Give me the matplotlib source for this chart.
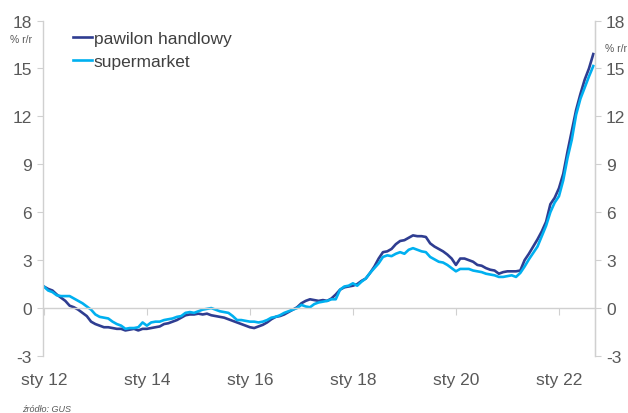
"""Inflacja cen w handlu: pawilon handlowy vs supermarket (% r/r)"""

import matplotlib.pyplot as plt
from matplotlib.lines import Line2D

plt.rcParams['font.family'] = ['Liberation Sans', 'DejaVu Sans']
plt.rcParams['axes.unicode_minus'] = False

# miesiące od sty 2012 do wrz 2022
pawilon = [
    1.35, 1.2, 1.1, 0.85, 0.65, 0.45, 0.15, 0.05, -0.1, -0.3, -0.5, -0.85,
    -1.0, -1.1, -1.2, -1.2, -1.25, -1.3, -1.3, -1.4, -1.35, -1.3, -1.4, -1.3,
    -1.3, -1.25, -1.2, -1.15, -1.0, -0.95, -0.85, -0.75, -0.6, -0.45, -0.4, -0.4,
    -0.35, -0.4, -0.35, -0.45, -0.5, -0.55, -0.6, -0.7, -0.8, -0.9, -1.0, -1.1,
    -1.2, -1.25, -1.15, -1.05, -0.9, -0.7, -0.55, -0.5, -0.4, -0.25, -0.1, 0.05,
    0.3, 0.45, 0.55, 0.5, 0.45, 0.5, 0.45, 0.6, 0.85, 1.15, 1.3, 1.35,
    1.4, 1.5, 1.7, 1.85, 2.2, 2.6, 3.1, 3.5, 3.55, 3.7, 4.0, 4.2,
    4.25, 4.4, 4.55, 4.5, 4.5, 4.45, 4.05, 3.85, 3.7, 3.55, 3.35, 3.1,
    2.7, 3.1, 3.1, 3.0, 2.9, 2.7, 2.65, 2.5, 2.4, 2.35, 2.15, 2.25,
    2.3, 2.3, 2.3, 2.35, 3.0, 3.4, 3.85, 4.3, 4.8, 5.4, 6.5, 6.9,
    7.5, 8.4, 9.8, 11.1, 12.4, 13.4, 14.3, 15.0, 15.9,
]
supermarket = [
    1.35, 1.1, 1.0, 0.8, 0.75, 0.75, 0.75, 0.6, 0.45, 0.3, 0.1, -0.1,
    -0.4, -0.55, -0.6, -0.65, -0.85, -1.0, -1.1, -1.3, -1.25, -1.25, -1.2, -0.9,
    -1.1, -0.9, -0.85, -0.85, -0.75, -0.7, -0.65, -0.55, -0.5, -0.3, -0.25, -0.3,
    -0.2, -0.1, -0.05, 0.0, -0.1, -0.2, -0.25, -0.3, -0.5, -0.75, -0.75, -0.8,
    -0.85, -0.85, -0.9, -0.85, -0.75, -0.6, -0.55, -0.45, -0.3, -0.2, -0.1, 0.0,
    0.2, 0.1, 0.05, 0.25, 0.35, 0.4, 0.45, 0.55, 0.55, 1.15, 1.35, 1.4,
    1.55, 1.4, 1.65, 1.85, 2.2, 2.5, 2.8, 3.2, 3.3, 3.25, 3.4, 3.5,
    3.4, 3.65, 3.75, 3.65, 3.55, 3.5, 3.2, 3.05, 2.9, 2.85, 2.7, 2.5,
    2.3, 2.45, 2.45, 2.45, 2.35, 2.3, 2.25, 2.15, 2.1, 2.05, 1.95, 1.95,
    2.0, 2.05, 1.95, 2.2, 2.6, 3.05, 3.45, 3.85, 4.5, 5.15, 6.0, 6.6,
    7.0, 8.0, 9.4, 10.55, 12.1, 13.1, 13.8, 14.5, 15.15,
]
tick_months = [0, 24, 48, 72, 96, 120]
tick_labels = ['sty 12', 'sty 14', 'sty 16', 'sty 18', 'sty 20', 'sty 22']
y_ticks = [-3, 0, 3, 6, 9, 12, 15, 18]

DARK = '#2f3d91'
LIGHT = '#00b0f0'
GREY = '#595959'
AXIS = '#d0d0d0'

fig = plt.figure(figsize=(6.28, 4.14), dpi=100)
ax = fig.add_axes([43 / 628, 57 / 414, 552 / 628, 335.5 / 414])

months = list(range(len(pawilon)))
ax.plot(months, pawilon, color=DARK, lw=1.9, solid_joinstyle='round')
ax.plot(months, supermarket, color=LIGHT, lw=1.9, solid_joinstyle='round')

ax.set_xlim(-0.2, 128.4)
ax.set_ylim(-3, 18)
ax.set_yticks(y_ticks)

# oś kategorii przecina w zerze
ax.spines['bottom'].set_position(('data', 0))
ax.spines['top'].set_visible(False)
for side in ['bottom', 'left', 'right']:
    ax.spines[side].set_color(AXIS)
    ax.spines[side].set_linewidth(1.0)

ax.set_xticks(tick_months)
ax.set_xticklabels([])
ax.tick_params(axis='x', direction='out', length=5, color=AXIS)
for m, lab in zip(tick_months, tick_labels):
    ax.annotate(lab, xy=(m, 0), xycoords=('data', 'axes fraction'),
                xytext=(0, -17), textcoords='offset points',
                ha='center', va='center', fontsize=12.5, color=GREY)

ax.tick_params(axis='y', direction='out', length=4, pad=4, color=AXIS,
               labelsize=12.5, labelcolor=GREY)

ax2 = ax.twinx()
ax2.set_ylim(-3, 18)
ax2.set_yticks(y_ticks)
for side in ['top', 'bottom', 'left']:
    ax2.spines[side].set_visible(False)
ax2.spines['right'].set_color(AXIS)
ax2.tick_params(axis='y', direction='out', length=4, pad=4, color=AXIS,
                labelsize=12.5, labelcolor=GREY)

fig.text(10 / 628, 1 - 40 / 414, '% r/r', fontsize=7.5, color=GREY, va='center')
fig.text(605 / 628, 1 - 49 / 414, '% r/r', fontsize=7.5, color=GREY, va='center')

handles = [Line2D([], [], color=DARK, lw=1.9), Line2D([], [], color=LIGHT, lw=1.9)]
fig.legend(handles, ['pawilon handlowy', 'supermarket'], loc='upper left',
           bbox_to_anchor=(73 / 628, 1 - 32 / 414), frameon=False,
           fontsize=12.5, handlelength=1.1, handletextpad=0.1,
           labelspacing=0.42, borderpad=0, borderaxespad=0,
           labelcolor='#404040')

fig.text(22 / 628, 1 - 410 / 414, 'źródło: GUS', fontsize=6.5, style='italic',
         color=GREY, va='center')

fig.savefig('out.png', dpi=100)
